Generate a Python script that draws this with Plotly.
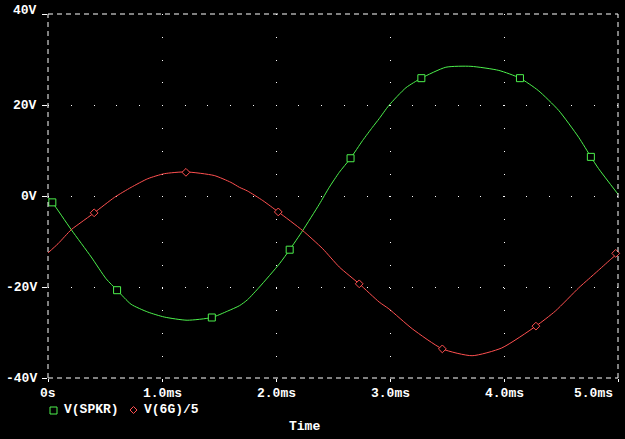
import plotly.graph_objects as go

# ---- data ----
spkr_t = [0, 0.038, 0.204, 0.379, 0.51, 0.606, 0.729, 0.875, 1.02, 1.22, 1.437, 1.575, 1.68, 1.75,
          1.855, 2.03, 2.12, 2.234, 2.38, 2.467, 2.555, 2.654, 2.76, 2.846, 2.905, 2.99, 3.14, 3.275,
          3.49, 3.71, 3.955, 4.14, 4.30, 4.48, 4.655, 4.762, 4.83, 5.0]
spkr_v = [-0.3, -1.4, -7.4, -13.4, -18.2, -20.7, -23.8, -25.5, -26.6, -27.3, -26.7, -25.3, -24.1, -22.8,
          -20.0, -14.9, -11.8, -7.6, -1.8, 1.9, 5.2, 8.3, 12.2, 15.1, 17.0, 19.9, 23.8, 25.9,
          28.3, 28.5, 27.6, 25.9, 23.2, 18.8, 12.9, 8.6, 6.0, 0.4]
spkr_mark_t = [0.038, 0.606, 1.437, 2.12, 2.654, 3.275, 4.14, 4.762]
spkr_mark_v = [-1.4, -20.7, -26.7, -11.8, 8.3, 25.9, 25.9, 8.6]

g6_t = [0, 0.0875, 0.204, 0.29, 0.405, 0.583, 0.729, 0.875, 1.02, 1.21, 1.458, 1.604, 1.68, 1.75,
        1.884, 2.02, 2.234, 2.41, 2.555, 2.73, 2.905, 2.99, 3.196, 3.459, 3.72, 3.98, 4.28, 4.45,
        4.655, 4.74, 4.83, 4.946, 5.0]
g6_v = [-12.5, -10.5, -7.4, -5.8, -3.7, -0.3, 1.9, 3.8, 4.9, 5.3, 4.5, 3.0, 1.9, 1.1,
        -1.0, -3.5, -7.6, -11.6, -15.6, -19.3, -23.3, -24.8, -29.2, -33.6, -35.1, -33.4, -28.6, -25.3,
        -20.2, -18.3, -16.3, -13.7, -12.6]
g6_mark_t = [0.405, 1.21, 2.02, 2.73, 3.459, 4.28, 4.98]
g6_mark_v = [-3.7, 5.2, -3.5, -19.3, -33.6, -28.6, -12.6]

x_ticks = [0, 1, 2, 3, 4, 5]
x_tick_labels = ["0s", "1.0ms", "2.0ms", "3.0ms", "4.0ms", "5.0ms"]
y_ticks = [-40, -20, 0, 20, 40]
y_tick_labels = ["-40V", "-20V", "0V", "20V", "40V"]
series_names = ["V(SPKR)", "V(6G)/5"]
x_title = "Time"

# ---- styling ----
W, H = 625, 439
L, R, T, B = 48, 618, 14, 378
GREEN = "#4cf04c"
RED = "#ff5050"
FONT = dict(family="Liberation Mono, DejaVu Sans Mono, monospace", size=13, color="white", weight="bold")


def px_x(p):
    return (p - L) / (R - L)


def px_y(p):
    return (B - p) / (B - T)


fig = go.Figure()
fig.add_trace(go.Scatter(x=spkr_t, y=spkr_v, mode="lines", line=dict(color=GREEN, width=1, shape="spline", smoothing=0.6),
                         showlegend=False, hoverinfo="skip"))
fig.add_trace(go.Scatter(x=g6_t, y=g6_v, mode="lines", line=dict(color=RED, width=1, shape="spline", smoothing=0.6),
                         showlegend=False, hoverinfo="skip"))
fig.add_trace(go.Scatter(x=spkr_mark_t, y=spkr_mark_v, mode="markers",
                         marker=dict(symbol="square", size=7, color="black", line=dict(color=GREEN, width=1)),
                         showlegend=False, cliponaxis=False))
fig.add_trace(go.Scatter(x=g6_mark_t, y=g6_mark_v, mode="markers",
                         marker=dict(symbol="diamond", size=6, color="black", line=dict(color=RED, width=1)),
                         showlegend=False, cliponaxis=False))

dash = "5px,4px"
shapes = [
    dict(type="line", xref="paper", yref="paper", x0=0, x1=1, y0=1, y1=1, line=dict(color="white", width=1, dash=dash)),
    dict(type="line", xref="paper", yref="paper", x0=0, x1=1, y0=0, y1=0, line=dict(color="white", width=1, dash=dash)),
    dict(type="line", xref="paper", yref="paper", x0=0, x1=0, y0=0, y1=1, line=dict(color="white", width=1, dash=dash)),
    dict(type="line", xref="paper", yref="paper", x0=1, x1=1, y0=0, y1=1, line=dict(color="white", width=1, dash=dash)),
    # legend symbols
    dict(type="rect", xref="paper", yref="paper", x0=px_x(50), x1=px_x(57), y0=px_y(407), y1=px_y(414),
         line=dict(color=GREEN, width=1)),
    dict(type="path", xref="paper", yref="paper",
         path=f"M {px_x(133.5)},{px_y(406.5)} L {px_x(137)},{px_y(410)} L {px_x(133.5)},{px_y(413.5)} L {px_x(130)},{px_y(410)} Z",
         line=dict(color=RED, width=1)),
]

annotations = []
for v, lab in zip(x_ticks, x_tick_labels):
    last = v == x_ticks[-1]
    annotations.append(dict(x=v, xref="x", y=px_y(393), yref="paper", text=lab, showarrow=False,
                            xanchor="right" if last else "center", yanchor="middle",
                            xshift=-3 if last else 0, font=FONT))
for v, lab in zip(y_ticks, y_tick_labels):
    top = v == y_ticks[-1]
    annotations.append(dict(x=px_x(39), xref="paper", y=v, yref="y", text=lab, showarrow=False,
                            xanchor="right", yanchor="middle", yshift=4 if top else 0, font=FONT))
annotations.append(dict(x=px_x(304), xref="paper", y=px_y(426), yref="paper", text=x_title, showarrow=False,
                        xanchor="center", yanchor="middle", font=FONT))
annotations.append(dict(x=px_x(62), xref="paper", y=px_y(410), yref="paper", text=series_names[0], showarrow=False,
                        xanchor="left", yanchor="middle", font=FONT))
annotations.append(dict(x=px_x(142), xref="paper", y=px_y(410), yref="paper", text=series_names[1], showarrow=False,
                        xanchor="left", yanchor="middle", font=FONT))

fig.update_layout(
    width=W, height=H,
    margin=dict(l=L, r=W - R, t=T, b=H - B, pad=0),
    paper_bgcolor="black", plot_bgcolor="black",
    shapes=shapes, annotations=annotations,
    showlegend=False,
    xaxis=dict(range=[0, 5], tickvals=x_ticks, ticktext=[""] * len(x_ticks), showgrid=True,
               gridcolor="white", gridwidth=1, griddash="1px,21.8px", zeroline=False, showline=False,
               ticks="outside", ticklen=3, tickcolor="white", tickwidth=1, fixedrange=True, automargin=False),
    yaxis=dict(range=[-40, 40], tickvals=y_ticks, ticktext=[""] * len(y_ticks), showgrid=True,
               gridcolor="white", gridwidth=1, griddash="1px,21.75px", zeroline=False, showline=False,
               ticks="outside", ticklen=5, tickcolor="white", tickwidth=1,
               fixedrange=True, automargin=False),
)

fig.write_html("out.html", config={"displayModeBar": False},
               post_script="document.body.style.margin='0px';document.body.style.background='black';document.body.style.overflow='hidden';")
